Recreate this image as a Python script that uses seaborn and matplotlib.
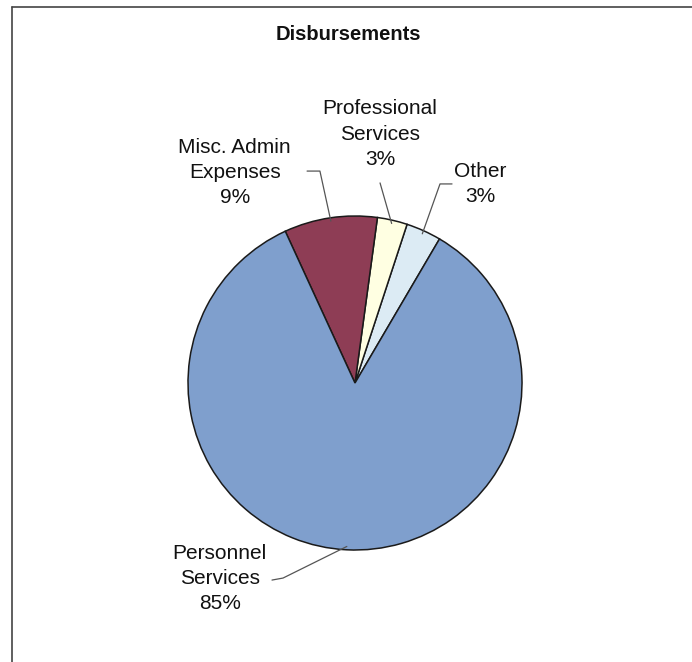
import matplotlib
matplotlib.use("Agg")
import matplotlib.pyplot as plt
from matplotlib.lines import Line2D
import numpy as np
import seaborn as sns

sns.set_theme(style="white")
plt.rcParams['font.family'] = ['Liberation Sans', 'DejaVu Sans']

# Data (counter-clockwise order starting right of top)
categories = ["Other", "Professional\nServices", "Misc. Admin\nExpenses", "Personnel\nServices"]
values = [3.4, 2.9, 9.0, 84.7]
pct_labels = ["3%", "3%", "9%", "85%"]
colors = ["#DCEBF4", "#FFFFE2", "#8E3D55", "#7F9FCD"]

# label text centres (data units, pie radius = 1) and elbow points
label_pos = [(0.75, 1.19), (0.15, 1.49), (-0.72, 1.26), (-0.81, -1.17)]
line_start = [(0.581, 1.192), (0.150, 1.198), (-0.287, 1.269), (-0.497, -1.180)]
line_elbow = [(0.509, 1.192), None, (-0.210, 1.269), (-0.431, -1.168)]

W, H = 692, 662
fig = plt.figure(figsize=(W / 100, H / 100), dpi=100)
fig.patch.set_facecolor("white")

cx, cy, r = 355, 383, 167
ax = fig.add_axes([(cx - r) / W, (H - cy - r) / H, 2 * r / W, 2 * r / H])
wedges, _ = ax.pie(values, colors=colors, startangle=59.6, counterclock=True,
                   radius=1.0, wedgeprops=dict(edgecolor="#1a1a1a", linewidth=1.1))
ax.set_xlim(-1, 1)
ax.set_ylim(-1, 1)
ax.set_aspect("equal")
ax.axis("off")

for w, cat, pct, lp, ls, le in zip(wedges, categories, pct_labels, label_pos, line_start, line_elbow):
    ang = np.deg2rad((w.theta1 + w.theta2) / 2)
    anchor = (0.98 * np.cos(ang), 0.98 * np.sin(ang))
    pts = [ls] + ([le] if le is not None else []) + [anchor]
    xs, ys = zip(*pts)
    ax.plot(xs, ys, color="#555555", lw=0.9, clip_on=False)
    ax.text(lp[0], lp[1], cat + "\n" + pct, ha="center", va="center",
            fontsize=15, linespacing=1.42, color="#111111", clip_on=False)

fig.text(348 / W, 1 - 35 / H, "Disbursements", ha="center", va="center",
         fontsize=14.5, fontweight="bold", color="#111111")

# frame lines (top and left)
fig.add_artist(Line2D([12 / W, 1.0], [1 - 7 / H, 1 - 7 / H], transform=fig.transFigure,
                      color="#444444", lw=1.2))
fig.add_artist(Line2D([12 / W, 12 / W], [0.0, 1 - 7 / H], transform=fig.transFigure,
                      color="#444444", lw=1.2))

fig.savefig("out.png", dpi=100, facecolor="white")
